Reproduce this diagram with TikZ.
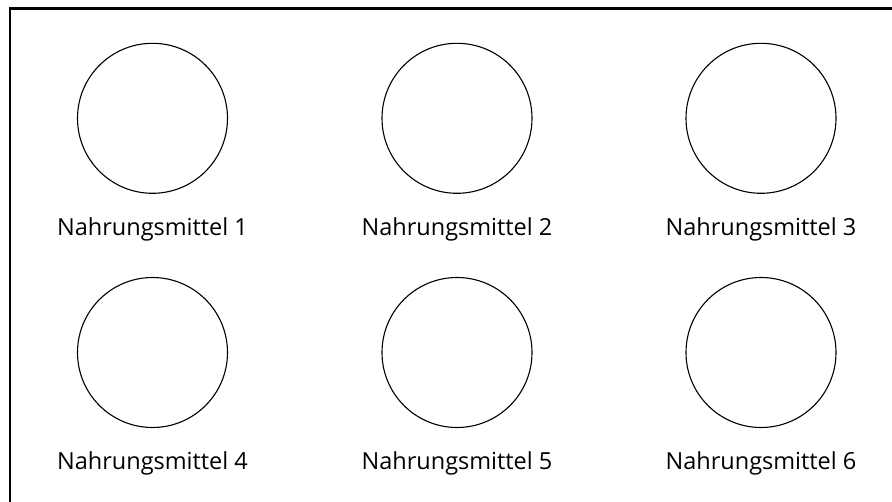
\documentclass[tikz,border=0pt]{standalone}
\usepackage{fontspec}
\setmainfont{Open Sans}
\begin{document}
\begin{tikzpicture}[x=1pt,y=-1pt,
  foodcircle/.style={circle,draw,line width=1.1pt,minimum size=150pt,inner sep=0pt},
  foodlabel/.style={anchor=base,inner sep=0pt,font=\fontsize{23.5}{27}\selectfont},
  frameline/.style={line width=2.6pt}]
\useasboundingbox (0,0) rectangle (892,501);
\clip (0,0) rectangle (892,501);
\fill[white] (0,0) rectangle (892,501);
\draw[frameline] (10,520) -- (10,8.5) -- (910,8.5);
\foreach \i/\x/\y in {1/152.5/118.3, 2/457/118.3, 3/761/118.3, 4/152.5/352.5, 5/457/352.5, 6/761/352.5}{
  \node[foodcircle] (c\i) at (\x,\y) {};
  \node[foodlabel] (l\i) at (\x,\y+116.7) {Nahrungsmittel \i};
}
\end{tikzpicture}
\end{document}
